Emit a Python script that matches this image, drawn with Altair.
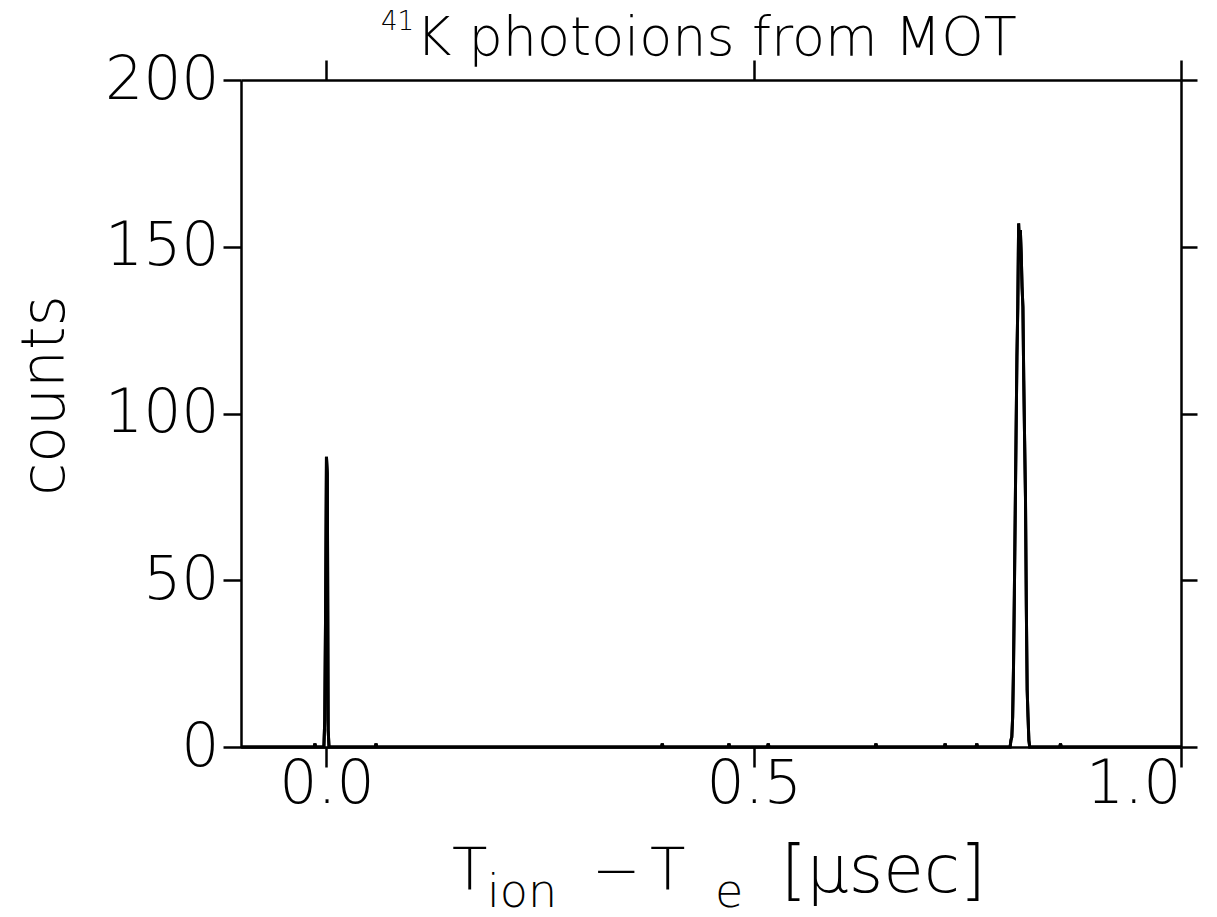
import altair as alt
import pandas as pd

# ---- data ----
# nonzero histogram bins: time [usec] and counts
peak1_t = [-0.003, -0.002, -0.001, 0.000, 0.001, 0.002, 0.003]
peak1_c = [0, 8, 41, 87, 82, 5, 0]

peak2_t = [0.800, 0.801, 0.802, 0.803, 0.804, 0.805, 0.806, 0.807, 0.808,
           0.809, 0.810, 0.811, 0.812, 0.813, 0.814, 0.815, 0.816, 0.817,
           0.818, 0.819, 0.820, 0.821, 0.822, 0.823]
peak2_c = [0, 2, 3, 9, 24, 46, 70, 94, 117, 132, 157, 150, 155, 148, 138,
           132, 110, 92, 75, 42, 17, 9, 2, 0]

single_t = [-0.0135, 0.058, 0.393, 0.471, 0.517, 0.643, 0.724, 0.761, 0.859]
single_c = [1, 1, 1, 1, 1, 1, 1, 1, 1]

x_ticks = [0.0, 0.5, 1.0]
y_ticks = [0, 50, 100, 150, 200]
x_domain = [-0.1, 1.0]
y_domain = [0, 200]

title_sup = "41"
title_main = "K photoions from MOT"
xtitle_parts = ["T", "ion", "\u2212", "T", "e", "[\u03bcsec]"]
ytitle = "counts"

# ---- build the series ----
bin_w = 0.001
rows = [(x_domain[0], 0), (x_domain[1], 0)]
rows += list(zip(peak1_t, peak1_c))
rows += list(zip(peak2_t, peak2_c))
for t, c in zip(single_t, single_c):
    rows += [(t - bin_w, 0), (t, c), (t + bin_w, 0)]
df = pd.DataFrame(rows, columns=["t", "counts"]).sort_values("t")

FONT = "DejaVu Sans"
FW = 200

xs = alt.Scale(domain=x_domain, nice=False, zero=False)
ys = alt.Scale(domain=y_domain, nice=False)

base = alt.Chart(df)

main = base.mark_line(color="black", strokeWidth=3, interpolate="linear").encode(
    x=alt.X("t:Q", scale=xs, axis=alt.Axis(
        orient="bottom", values=x_ticks, format=".1f", title=None,
        tickSize=20, labelPadding=-12, labelFontSize=60)),
    y=alt.Y("counts:Q", scale=ys, axis=alt.Axis(
        orient="left", values=y_ticks, title=ytitle, tickSize=18,
        labelPadding=4, labelFontSize=60, titleFontSize=60,
        titleX=-196, titleY=315, titleAngle=-90, titleAlign="center",
        titleBaseline="middle")),
)

mirror = base.mark_line(color="black", strokeWidth=3, interpolate="linear").encode(
    x=alt.X("t:Q", scale=xs, axis=alt.Axis(
        orient="top", values=x_ticks, labels=False, title=None, tickSize=20)),
    y=alt.Y("counts:Q", scale=ys, axis=alt.Axis(
        orient="right", values=y_ticks, labels=False, title=None, tickSize=16)),
)

def txt(s, x, y, size, align="left"):
    return alt.Chart(pd.DataFrame({"s": [s]})).mark_text(
        font=FONT, fontSize=size, fontWeight=FW, align=align,
        baseline="alphabetic", color="black"
    ).encode(text="s:N", x=alt.value(x), y=alt.value(y))

texts = [
    txt(title_sup, 173, -50, 26, "right"),
    txt(title_main, 175, -25, 54),
    txt(xtitle_parts[0], 211, 810, 58),
    txt(xtitle_parts[1], 246, 827, 46),
    txt(xtitle_parts[2], 351, 810, 58),
    txt(xtitle_parts[3], 409, 810, 58),
    txt(xtitle_parts[4], 474, 827, 46),
    txt(xtitle_parts[5], 540, 812, 66),
]

chart = alt.layer(main, mirror, *texts).resolve_axis(
    x="independent", y="independent"
).properties(
    width=940, height=667,
    autosize=alt.AutoSizeParams(type="none"),
    padding={"left": 241, "top": 80, "right": 36, "bottom": 170},
    background="white",
).configure_view(stroke=None).configure_axis(
    grid=False, domainColor="black", domainWidth=2.5, tickColor="black",
    tickWidth=2.5, labelColor="black", labelFont=FONT, titleFont=FONT,
    titleColor="black", titleFontWeight=FW, labelFontWeight=FW,
)

chart.save("out.html", embed_options={"renderer": "svg", "actions": False})
